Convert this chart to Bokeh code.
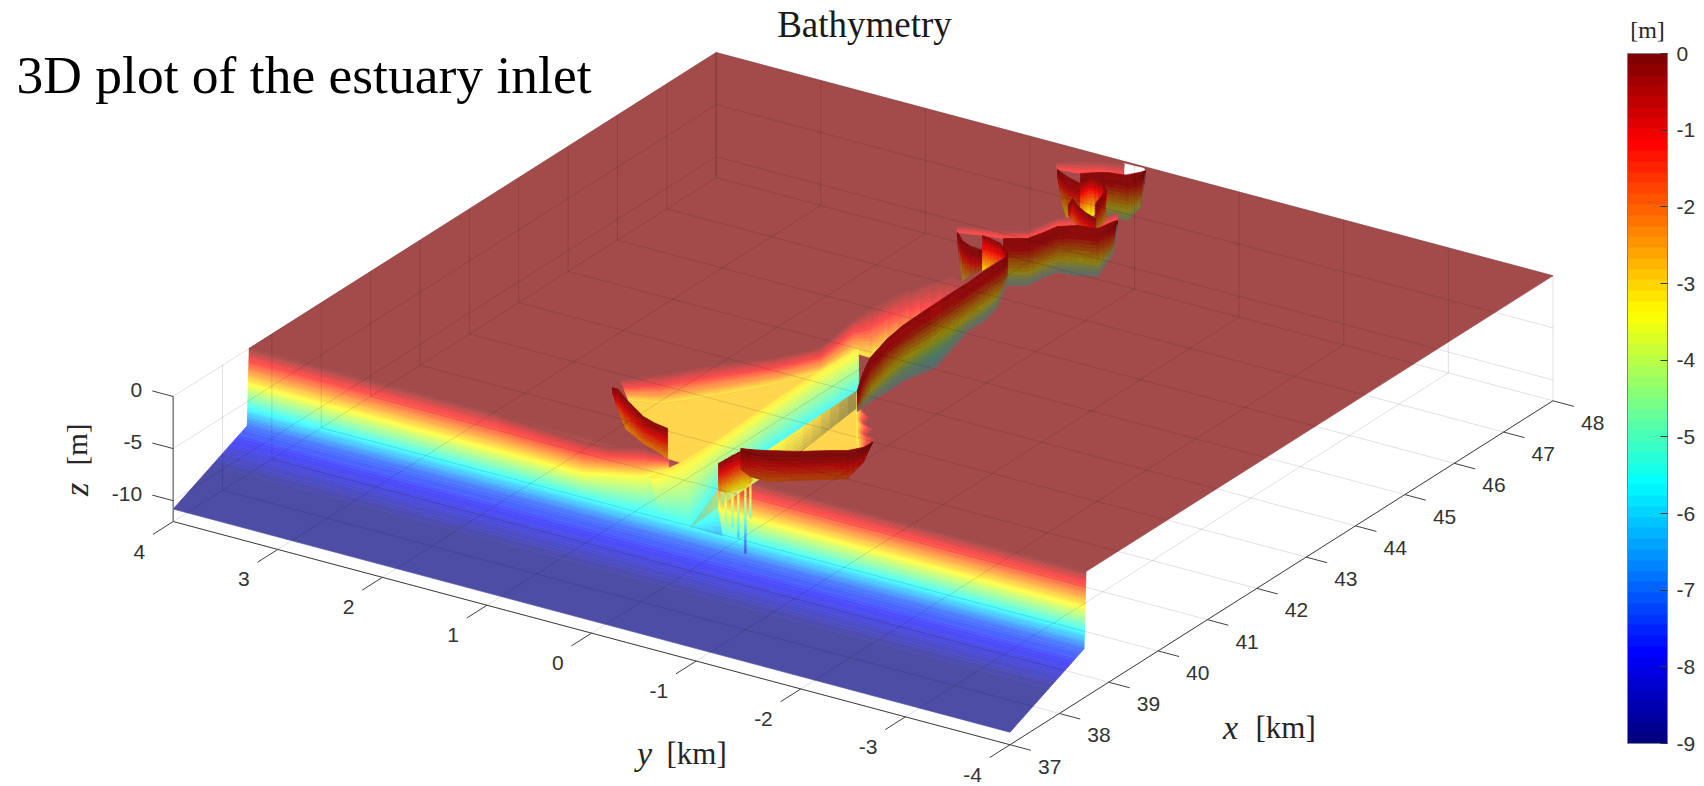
import numpy as np
from bokeh.plotting import figure
from bokeh.embed import file_html
from bokeh.resources import INLINE
from bokeh.models import Range1d, ColorBar, LinearColorMapper, FixedTicker, AllLabels
from bokeh.core.properties import value

# ---------- chart values (km, km, m) ----------
x_ticks = [37, 38, 39, 40, 41, 42, 43, 44, 45, 46, 47, 48]
y_ticks = [4, 3, 2, 1, 0, -1, -2, -3, -4]
z_ticks = [0, -5, -10]
cb_ticks = [0, -1, -2, -3, -4, -5, -6, -7, -8, -9]
z_floor = -12

shore_x = [37, 38.5, 38.54]
shore_z = [-10.8, -7.3, 0]
land_x = [38.54, 48, 48, 38.54]
land_y = [4, 4, -4, -4]

bu_x = [38.54,38.45,38.477,38.657,38.645]
bu_y = [1.6,0.762,0.516,0.314,0.041]
bm_x = [38.521,38.521,38.666,38.801,39.104]
bm_y = [1.6,0.8,0.606,0.382,0.258]
bm_z = -3.4
bl_x = [38.509,38.509,38.509,38.554,38.54]
bl_y = [1.6,0.8,0.531,0.266,0.067]
bl_z = -5.7
fu_x = [40.045,40.398,40.965,41.471,41.966,42.794,43.121,43.448,43.984,44.407,44.378]
fu_y = [1.161,0.945,0.667,0.351,0.155,0.23,0.222,0.214,0.151,0.035,-0.112]
fl_x = [40.37,40.49,41.02,41.61,42.15,42.8,42.81,43.18,43.68,44.16,44.36]
fl_y = [1.237,0.99,0.692,0.418,0.243,0.233,0.077,0.087,0.009,-0.079,-0.122]
fl_z = [-3.1,-3.1,-3.1,-3.1,-3.1,-3.1,-3.2,-2.5,-1.4,-0.5,-0.1]
sh_x = [40.35,40.49,41.02,41.61,42.15,42.88,42.15,41.11,40.02,39.28,39.3,39.72]
sh_y = [1.258,0.99,0.692,0.418,0.243,0.221,0.243,0.229,0.194,0.198,0.352,0.96]
s2_x = [40.23,40.57,41.63]
s2_y = [-0.472,-0.855,-0.356]
shoal_z = -3.1
shoal_tone = -2.85
du_x = [38.79,39.33,40.07,41.16,42.2,42.92]
du_y = [0.283,0.221,0.216,0.251,0.265,0.243]
du_z = -3.1
dl_x = [38.54,38.49,39.54,40.69,41.63,42.59]
dl_y = [0.067,-0.241,-0.015,0.059,0.075,0.084]
dl_z = -5.7
wu_x = [38.4,39.19,40.15,41.0,41.95]
wu_y = [-0.285,-0.181,-0.195,-0.224,-0.208]
wu_z = [-5.3,-4.2,-3.4,-3.0,-3.0]
wu_s = [0.8,0.85,1,1,0.45]
wl_x = [38.4,38.8,39.58,40.51,41.56]
wl_y = [-0.285,-0.354,-0.462,-0.458,-0.389]
wl_z = [-5.3,-4.4,-3.2,-3.0,-3.0]
wl_s = [0.8,0.85,0.9,0.7,0.42]
tu_x = [38.52,38.94]
tu_y = [-0.23,-0.287]
tu_z = [-5.8,-5.0]
tl_x = [38.52,38.69]
tl_y = [-0.23,-0.452]
tl_z = [-5.8,-6.5]
zl_x = [41.97,41.83,41.7,41.56,41.4,41.25,41.09,40.93,40.76,40.67]
zl_y = [-0.189,-0.253,-0.317,-0.381,-0.455,-0.529,-0.604,-0.678,-0.77,-0.812]
zl_z = -3.3
zr_x = [41.26,40.99,40.89,40.73,40.59,40.5,40.35,40.28,40.12,40.21]
zr_y = [-0.553,-0.724,-0.747,-0.889,-0.915,-1.026,-1.046,-1.146,-1.183,-1.171]
zr_z = -0.2
g1u_x = [45.53,45.66,45.7,45.84,46.09,46.31,46.48,46.53,46.81]
g1u_y = [0.529,0.319,0.166,0.005,-0.028,-0.059,-0.172,-0.339,-0.399]
g1l_x = [45.7,45.8,45.84,45.99,46.22,46.44,46.58,46.63,46.93]
g1l_y = [0.609,0.389,0.236,0.074,0.03,-0.0,-0.124,-0.29,-0.34]
g2u_x = [47.54,47.73,47.83,47.93]
g2u_y = [0.539,0.392,0.246,0.064]
g2l_x = [47.72,47.77,47.89,47.95]
g2l_y = [0.605,0.408,0.304,0.094]
glow_z = -1.3
nt_x = [47.95,47.96,47.92,47.71]
nt_y = [0.074,-0.107,-0.141,-0.042]

lw_x = [39.84,39.83,39.67,39.37,39.29,39.25]
lw_y = [1.14,1.079,0.936,0.624,0.469,0.335]
lw_z = [-0.48,-2.02,-2.88,-2.59,-2.59,-2.88]
sp_x = [38.77,38.9,39.03,39.13,39.24,39.28]
sp_y = [-0.38,-0.385,-0.389,-0.398,-0.413,-0.46]
sp_z = [-2.59,-3.17,-3.36,-3.55,-3.65,-2.98]
pk_x = [38.77,38.9,39.03,39.13,39.24,39.27]
pk_y = [-0.387,-0.385,-0.389,-0.398,-0.413,-0.447]
pk_z = [-4.51,-5.85,-6.91,-8.16,-9.98,-6.53]
nw_x = [39.24,39.27,39.35,39.53,39.73,39.83,40.0,40.16]
nw_y = [-0.369,-0.447,-0.572,-0.804,-0.996,-1.11,-1.183,-1.193]
nw_z = [-2.0,-2.6,-2.98,-2.78,-2.78,-2.7,-1.44,0.0]
lg_x = [41.24,41.66,42.06,42.59,42.99,43.35,43.67,44.05,44.32,44.68,44.96,45.13,45.25]
lg_y = [-0.54,-0.393,-0.277,-0.19,-0.154,-0.146,-0.141,-0.135,-0.138,-0.124,-0.123,-0.12,-0.084]
lg_z = [-2.02,-3.26,-4.22,-5.09,-5.33,-5.76,-6.14,-5.37,-4.65,-4.8,-4.32,-2.91,-2.78]
mb_x = [45.54,45.684,45.915,46.134,46.276,46.329,46.583,46.629]
mb_y = [0.092,-0.07,-0.113,-0.144,-0.268,-0.434,-0.468,-0.484]
mb_z = [-4.51,-4.51,-4.32,-4.41,-4.8,-4.61,-3.07,-0.48]
pa_x = [45.399,45.249,45.162,45.15]
pa_y = [0.465,0.347,0.229,0.099]
pa_z = [-0.77,-3.84,-2.88,-1.73]
pb_x = [45.481,45.462,45.409,45.249]
pb_y = [0.265,0.179,0.059,-0.084]
pb_z = [-3.36,-2.59,-1.44,-0.58]
ca_x = [47.417,47.357,47.303,47.24]
ca_y = [0.461,0.385,0.302,0.158]
ca_z = [-0.58,-3.07,-4.32,-3.74]
cd_x = [47.465,47.589,47.649,47.702,47.847,47.922]
cd_y = [0.264,0.16,0.093,-0.073,-0.129,-0.141]
cd_z = [-3.07,-3.84,-4.13,-4.32,-3.36,-0.29]
ce_x = [47.24,47.435,47.372,47.238]
ce_y = [0.158,0.154,0.01,-0.091]
ce_z = [-2.88,-3.93,-2.11,-0.96]
cg_x = [46.88,47.232]
cg_y = [-0.155,-0.085]
cg_z = [-2.5,-2.88]
cf_x = [46.695,46.854,46.71,46.617,46.542]
cf_y = [0.016,0.053,-0.073,-0.184,-0.315]
cf_z = [-1.06,-2.11,-1.92,-1.54,-1.15]

# ---------- view: the orthographic camera of the 3D axes ----------
def P(x, y, z):
    x, y, z = np.asarray(x, float), np.asarray(y, float), np.asarray(z, float)
    return (172.7 + (x - 37) * 49.36 + (4 - y) * 104.6,
            396 - (x - 37) * 31.27 + (4 - y) * 27.9 - 10.42 * z)

def jet(i):
    t = i / 63
    f = lambda a, b: np.clip(min(4 * t - a, -4 * t + b), 0, 1)
    return np.array([f(1.5, 4.5), f(0.5, 3.5), f(-0.5, 2.5)]) * 255

WHITE = np.array([255, 255, 255.])
GREY = np.array([105, 105, 100.])

def hexc(c):
    c = np.clip(np.round(c), 0, 255).astype(int)
    return "#%02x%02x%02x" % tuple(c)

LAND = np.array([163, 75, 75.])

def shaded(z, shade=1.0, alpha=0.7, under=WHITE, k=1.0, fade=0.0, v=0.0, boost=False):
    i = int(np.clip(round((z * k + 9) / 9 * 63), 0, 63))
    if i == 63 and shade == 1.0 and under is WHITE:
        return LAND
    if boost and v < 0.2:
        shade = 1 + (shade - 1) * v / 0.2
    c = jet(i) * shade * alpha + under * (1 - alpha)
    f = np.clip((v - 0.7) / 0.3, 0, 1) * fade
    return c * (1 - f) + GREY * f

xs_all, ys_all, cols = [], [], []

def poly(x, y, z, rgb):
    X, Y = P(x, y, z)
    xs_all.append(list(X)); ys_all.append(list(Y)); cols.append(hexc(rgb))

def ribbon(ax, ay, az, bx, by, bz, nu=3, nv=10, sa=None, sb=None, **kw):
    n = len(ax)
    ax, ay, bx, by = map(lambda a: np.asarray(a, float), (ax, ay, bx, by))
    az = np.full(n, az, float) if np.isscalar(az) else np.asarray(az, float)
    bz = np.full(n, bz, float) if np.isscalar(bz) else np.asarray(bz, float)
    sa = np.full(n, 1.0) if sa is None else np.asarray(sa, float)
    sb = np.full(n, 1.0) if sb is None else np.asarray(sb, float)
    us = np.linspace(0, n - 1, (n - 1) * nu + 1)
    vs = np.linspace(0, 1, nv + 1)
    idx = np.arange(n)
    def pt(u, v):
        a = np.array([np.interp(u, idx, q) for q in (ax, ay, az)])
        b = np.array([np.interp(u, idx, q) for q in (bx, by, bz)])
        return a + (b - a) * v
    for u0, u1 in zip(us[:-1], us[1:]):
        for v0, v1 in zip(vs[:-1], vs[1:]):
            q = np.array([pt(u0, v0), pt(u1, v0), pt(u1, v1), pt(u0, v1)])
            um, vm = (u0 + u1) / 2, (v0 + v1) / 2
            s = np.interp(um, idx, sa) * (1 - vm) + np.interp(um, idx, sb) * vm
            z = q[:, 2].mean()
            poly(q[:, 0], q[:, 1], q[:, 2], shaded(z, shade=s, v=vm, **kw))

def wall(x, y, z, nu=3, nv=12, shade=0.6, k=1.0, fade=0.0):
    ribbon(x, y, 0.0, x, y, z, nu=nu, nv=nv, sa=np.full(len(x), shade), sb=np.full(len(x), shade),
           alpha=0.85, under=LAND, k=k, fade=fade, boost=True)

# land, sea front (rows of one colour are merged)
poly(land_x, land_y, [0, 0, 0, 0], LAND)
for seg, rows in ((0, 36), (1, 64)):
    xv = np.linspace(shore_x[seg], shore_x[seg + 1], rows + 1)
    zv = np.linspace(shore_z[seg], shore_z[seg + 1], rows + 1)
    r = 0
    while r < rows:
        c = hexc(shaded((zv[r] + zv[r + 1]) / 2))
        e = r + 1
        while e < rows and hexc(shaded((zv[e] + zv[e + 1]) / 2)) == c:
            e += 1
        poly([xv[r], xv[e], xv[e], xv[r]], [4, 4, -4, -4], [zv[r], zv[e], zv[e], zv[r]],
             shaded((zv[r] + zv[r + 1]) / 2))
        r = e
poly(nt_x, nt_y, [0, 0, 0, 0], WHITE)

# inlet: slopes and shoal
ribbon(bu_x, bu_y, 0.0, bm_x, bm_y, bm_z, nu=4, nv=24)
ribbon(bm_x, bm_y, bm_z, bl_x, bl_y, bl_z, nu=4, nv=16)
ribbon(fu_x, fu_y, 0.0, fl_x, fl_y, fl_z, nu=3, nv=12)
poly(sh_x, sh_y, [shoal_z] * len(sh_x), shaded(shoal_tone))
poly(s2_x, s2_y, [shoal_z] * len(s2_x), shaded(shoal_tone))
ribbon(du_x, du_y, du_z, dl_x, dl_y, dl_z, nu=3, nv=18)
ribbon(tu_x, tu_y, tu_z, tl_x, tl_y, tl_z, nu=4, nv=6)
ribbon(wu_x, wu_y, wu_z, wl_x, wl_y, wl_z, nu=5, nv=6, sa=wu_s, sb=wl_s)
ribbon(zl_x, zl_y, zl_z, zr_x, zr_y, zr_z, nu=1, nv=7)

# channel walls near the mouth
wall(lw_x, lw_y, lw_z, nu=3, nv=10, shade=0.85, k=0.9)
for x0, y0, z0 in zip(pk_x, pk_y, pk_z):
    ribbon([x0, x0], [y0 + 0.007, y0 - 0.007], 0.0, [x0, x0], [y0 + 0.007, y0 - 0.007], z0, nu=1, nv=26, k=0.8)
wall(sp_x, sp_y, sp_z, nu=2, nv=14, shade=0.9)
wall(nw_x, nw_y, nw_z, nu=3, nv=9, shade=0.68, k=0.72)

# channel walls upstream
ribbon(g2u_x, g2u_y, 0.0, g2l_x, g2l_y, glow_z, nu=3, nv=6)
wall(cd_x, cd_y, cd_z, nu=3, nv=12, shade=0.55, fade=0.5)
wall(ca_x, ca_y, ca_z, nu=3, nv=12, shade=0.7, k=0.85)
ribbon(g1u_x, g1u_y, 0.0, g1l_x, g1l_y, glow_z, nu=3, nv=6)
wall(ce_x, ce_y, ce_z, nu=3, nv=12, shade=1.0)
wall(cg_x, cg_y, cg_z, nu=4, nv=10, shade=0.62)
wall(cf_x, cf_y, cf_z, nu=3, nv=10, shade=0.85)
wall(mb_x, mb_y, mb_z, nu=3, nv=14, shade=0.55, fade=1.0)
wall(pa_x, pa_y, pa_z, nu=3, nv=12, shade=0.7, k=0.8, fade=0.3)
wall(pb_x, pb_y, pb_z, nu=3, nv=12, shade=1.0)
wall(lg_x, lg_y, lg_z, nu=3, nv=14, shade=0.55, fade=1.0)

# ---------- figure ----------
W, H = 1704, 786
p = figure(width=W, height=H, x_range=Range1d(0, W), y_range=Range1d(H, 0),
           output_backend="svg", toolbar_location=None, min_border=0)
p.axis.visible = False
p.grid.visible = False
p.outline_line_color = None
p.background_fill_color = "white"

p.patches(xs_all, ys_all, fill_color=cols, line_color=cols, line_width=0.7)

# grid of the floor and two back walls, seen through the surface
gx, gy = [], []
def seg(a, b):
    X, Y = P([a[0], b[0]], [a[1], b[1]], [a[2], b[2]])
    gx.append(list(X)); gy.append(list(Y))
for x in x_ticks:
    seg((x, 4, z_floor), (x, -4, z_floor))
    seg((x, 4, z_floor), (x, 4, 0))
for y in y_ticks:
    seg((37, y, z_floor), (48, y, z_floor))
    seg((48, y, z_floor), (48, y, 0))
for z in z_ticks:
    seg((37, 4, z), (48, 4, z))
    seg((48, 4, z), (48, -4, z))
p.multi_line(gx, gy, line_color="black", line_alpha=0.12, line_width=1)

# axes
ax_col = "#404040"
X, Y = P([37, 48], [-4, -4], [z_floor, z_floor]); p.line(X, Y, line_color=ax_col, line_width=1)
X, Y = P([37, 37], [4, -4], [z_floor, z_floor]); p.line(X, Y, line_color=ax_col, line_width=1)
X, Y = P([37, 37], [4, 4], [z_floor, 0]); p.line(X, Y, line_color="#808080", line_width=1.5)

TL = 0.2
tx, ty = [], []
def tick(x, y, z, dx, dy):
    X, Y = P([x, x + dx], [y, y + dy], [z, z])
    tx.append(list(X)); ty.append(list(Y))
for x in x_ticks:
    tick(x, -4, z_floor, 0, -TL)
for y in y_ticks:
    tick(37, y, z_floor, -0.41, 0)
for z in z_ticks:
    tick(37, 4, z, 0, TL)
p.multi_line(tx, ty, line_color=ax_col, line_width=1)

tick_font = dict(text_font=value("Liberation Sans"), text_font_size="21px", text_color="#333333",
                 text_baseline="middle")
X, Y = P(x_ticks, [-4] * len(x_ticks), [z_floor] * len(x_ticks))
p.text(X, Y, text=[str(v) for v in x_ticks], x_offset=28, y_offset=22, text_align="left", **tick_font)
X, Y = P([37] * len(y_ticks), y_ticks, [z_floor] * len(y_ticks))
p.text(X, Y, text=[str(v) for v in y_ticks], x_offset=-28, y_offset=30, text_align="right", **tick_font)
X, Y = P([37] * 3, [4] * 3, z_ticks)
p.text(X, Y, text=[str(v) for v in z_ticks], x_offset=-31, y_offset=-7, text_align="right", **tick_font)

serif = value("Liberation Serif")
p.text([864], [24], text=["Bathymetry"], text_font=serif, text_font_size="37px", text_align="center",
       text_color="#1a1a1a", text_baseline="alphabetic")
p.text([16], [74], text=["3D plot of the estuary inlet"], text_font=serif, text_font_size="53.5px",
       text_color="black", text_baseline="alphabetic")
lab = dict(text_font=serif, text_color="#262626", text_baseline="alphabetic")
p.text([1230], [727], text=["x"], text_font_size="34px", text_font_style="italic", text_align="center", **lab)
p.text([1255], [727], text=["[km]"], text_font_size="31px", **lab)
p.text([644], [753], text=["y"], text_font_size="34px", text_font_style="italic", text_align="center", **lab)
p.text([666], [753], text=["[km]"], text_font_size="31px", **lab)
lab2 = dict(text_font=serif, text_color="#262626", text_baseline="middle", text_align="center", angle=np.pi / 2)
p.text([76], [489], text=["z"], text_font_size="34px", text_font_style="italic", **lab2)
p.text([76], [444], text=["[m]"], text_font_size="29px", **lab2)
p.text([1647], [29], text=["[m]"], text_font=serif, text_font_size="24px", text_align="center",
       text_baseline="middle", text_color="#262626")

# colour bar
palette = [hexc(jet(i)) for i in range(64)]
mapper = LinearColorMapper(palette=palette, low=-9, high=0)
cb = ColorBar(color_mapper=mapper, location=(1627, 43), width=40, height=690, padding=0, margin=0,
              ticker=FixedTicker(ticks=cb_ticks), major_tick_in=7, major_tick_out=0,
              major_tick_line_color="#333333", minor_tick_line_color=None, bar_line_color="#808080",
              bar_line_width=1, label_standoff=9, border_line_color=None, background_fill_color=None,
              major_label_policy=AllLabels(), major_label_overrides={t: str(t) for t in cb_ticks},
              major_label_text_font="Liberation Sans", major_label_text_font_size="21px",
              major_label_text_color="#333333")
p.add_layout(cb, "center")

open("out.html", "w").write(file_html(p, INLINE))
